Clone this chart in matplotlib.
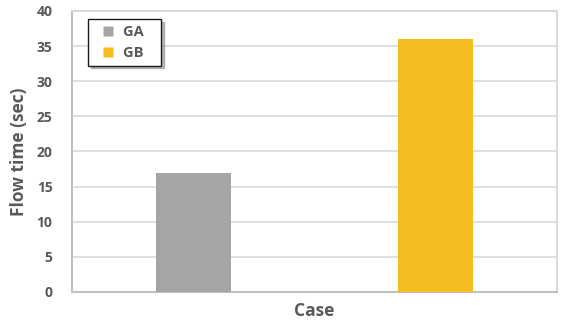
import numpy as np
import matplotlib.pyplot as plt
from matplotlib.lines import Line2D

plt.rcParams['font.family'] = ['Open Sans', 'DejaVu Sans']

# flow time per case
groups = ['GA', 'GB']
flow_time = [17, 36]
colors = ['#A5A5A5', '#F5BD1F']

fig = plt.figure(figsize=(5.71, 3.23), dpi=100)
ax = fig.add_axes([0.126, 0.096, 0.849, 0.870])

x = np.arange(len(groups))
ax.bar(x, flow_time, width=0.31, color=colors, zorder=3)

ax.set_xlim(-0.5, 1.5)
ax.set_ylim(0, 40)
ax.set_yticks(np.arange(0, 41, 5))
ax.set_xticks([])
ax.yaxis.grid(True, color='#D9D9D9', linewidth=1.2, zorder=0)
ax.tick_params(axis='y', length=0, pad=14, labelsize=10, labelcolor='#595959')
for lbl in ax.get_yticklabels():
    lbl.set_fontweight('bold')

for side in ['top', 'right']:
    ax.spines[side].set_color('#D9D9D9')
    ax.spines[side].set_linewidth(1.5)
for side in ['left', 'bottom']:
    ax.spines[side].set_color('#BFBFBF')
    ax.spines[side].set_linewidth(1.5)

ax.set_ylabel('Flow time (sec)', fontsize=12.5, fontweight='bold', color='#595959', labelpad=6)
ax.set_xlabel('Case', fontsize=12.5, fontweight='bold', color='#595959', labelpad=7)

# square markers, padded on the left inside the legend box
handles = [Line2D([], [], linestyle='none', marker='s', markersize=7,
                  markerfacecolor=c, markeredgecolor='none') for c in colors]
leg = ax.legend(handles, [g + '   ' for g in groups], loc='upper left',
                bbox_to_anchor=(0.033, 0.97),
                fancybox=False, shadow={'color': '#8c8c8c', 'alpha': 0.6}, frameon=True,
                handlelength=1.9, handletextpad=0.1, labelspacing=0.45,
                borderpad=0.4, borderaxespad=0, prop={'weight': 'bold', 'size': 10.5})
leg.get_frame().set_edgecolor('#1a1a1a')
leg.get_frame().set_linewidth(1.0)
for t in leg.get_texts():
    t.set_color('#595959')

fig.savefig('out.png', dpi=100)
